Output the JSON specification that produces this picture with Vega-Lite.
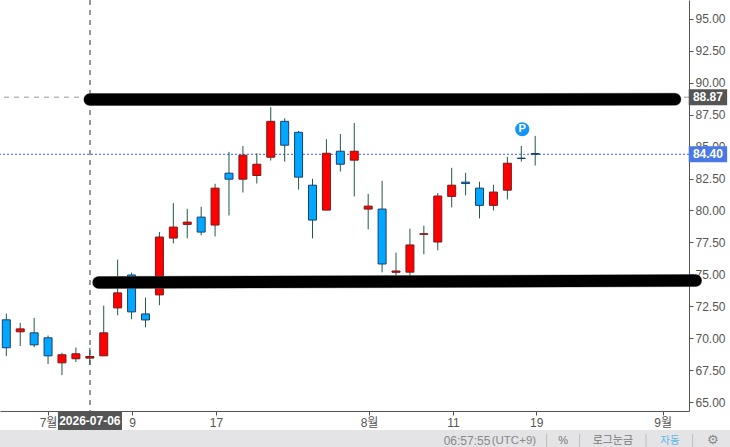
{
  "$schema": "https://vega.github.io/schema/vega-lite/v6.json",
  "width": 689,
  "height": 411,
  "autosize": "none",
  "padding": {"left": 0, "top": 0, "right": 41, "bottom": 36},
  "background": "white",
  "config": {
    "view": {"stroke": null},
    "scale": {"continuousPadding": 0},
    "font": "Liberation Sans, Noto Sans CJK KR",
    "axis": {"labelFont": "Liberation Sans, Noto Sans CJK KR", "labelFontSize": 12, "labelColor": "#555555", "domainColor": "#555555", "tickColor": "#555555", "tickSize": 4, "grid": false, "title": null, "labelOverlap": false}
  },
  "datasets": {
    "candles": [
      {"i": 0, "date": "2026-06-26", "open": 71.44, "close": 69.25, "high": 71.93, "low": 68.6},
      {"i": 1, "date": "2026-06-29", "open": 70.5, "close": 70.73, "high": 71.2, "low": 69.38},
      {"i": 2, "date": "2026-06-30", "open": 70.42, "close": 69.48, "high": 71.59, "low": 69.3},
      {"i": 3, "date": "2026-07-01", "open": 70.03, "close": 68.62, "high": 70.21, "low": 67.97},
      {"i": 4, "date": "2026-07-02", "open": 68.07, "close": 68.7, "high": 68.86, "low": 67.11},
      {"i": 5, "date": "2026-07-03", "open": 68.39, "close": 68.78, "high": 69.27, "low": 68.13},
      {"i": 6, "date": "2026-07-06", "open": 68.44, "close": 68.57, "high": 69.25, "low": 67.9},
      {"i": 7, "date": "2026-07-07", "open": 68.62, "close": 70.42, "high": 72.55, "low": 68.6},
      {"i": 8, "date": "2026-07-08", "open": 72.37, "close": 73.55, "high": 76.15, "low": 71.8},
      {"i": 9, "date": "2026-07-09", "open": 74.95, "close": 72.06, "high": 75.13, "low": 71.49},
      {"i": 10, "date": "2026-07-10", "open": 71.9, "close": 71.43, "high": 73.18, "low": 70.86},
      {"i": 11, "date": "2026-07-13", "open": 73.39, "close": 77.92, "high": 78.31, "low": 72.58},
      {"i": 12, "date": "2026-07-14", "open": 77.84, "close": 78.7, "high": 80.58, "low": 77.42},
      {"i": 13, "date": "2026-07-15", "open": 78.91, "close": 79.09, "high": 80.13, "low": 77.82},
      {"i": 14, "date": "2026-07-16", "open": 79.48, "close": 78.31, "high": 80.29, "low": 78.05},
      {"i": 15, "date": "2026-07-17", "open": 78.86, "close": 81.75, "high": 82.09, "low": 77.97},
      {"i": 16, "date": "2026-07-20", "open": 82.92, "close": 82.45, "high": 84.59, "low": 79.61},
      {"i": 17, "date": "2026-07-21", "open": 82.45, "close": 84.33, "high": 85.05, "low": 81.41},
      {"i": 18, "date": "2026-07-22", "open": 82.74, "close": 83.62, "high": 84.48, "low": 82.11},
      {"i": 19, "date": "2026-07-23", "open": 84.17, "close": 86.98, "high": 88.08, "low": 83.91},
      {"i": 20, "date": "2026-07-24", "open": 86.98, "close": 85.11, "high": 87.22, "low": 83.83},
      {"i": 21, "date": "2026-07-27", "open": 86.12, "close": 82.61, "high": 86.23, "low": 81.64},
      {"i": 22, "date": "2026-07-28", "open": 81.98, "close": 79.25, "high": 82.48, "low": 77.82},
      {"i": 23, "date": "2026-07-29", "open": 80.03, "close": 84.48, "high": 85.58, "low": 80.03},
      {"i": 24, "date": "2026-07-30", "open": 84.64, "close": 83.62, "high": 85.99, "low": 83.05},
      {"i": 25, "date": "2026-07-31", "open": 83.94, "close": 84.64, "high": 86.85, "low": 81.1},
      {"i": 26, "date": "2026-08-03", "open": 80.11, "close": 80.34, "high": 81.3, "low": 78.52},
      {"i": 27, "date": "2026-08-04", "open": 80.11, "close": 75.81, "high": 82.32, "low": 75.16},
      {"i": 28, "date": "2026-08-05", "open": 75.16, "close": 75.26, "high": 76.7, "low": 74.9},
      {"i": 29, "date": "2026-08-06", "open": 75.17, "close": 77.3, "high": 78.57, "low": 74.8},
      {"i": 30, "date": "2026-08-07", "open": 78.13, "close": 78.18, "high": 78.81, "low": 76.57},
      {"i": 31, "date": "2026-08-10", "open": 77.53, "close": 81.13, "high": 81.36, "low": 76.88},
      {"i": 32, "date": "2026-08-11", "open": 81.1, "close": 81.98, "high": 83.34, "low": 80.24},
      {"i": 33, "date": "2026-08-12", "open": 82.22, "close": 82.11, "high": 82.95, "low": 81.18},
      {"i": 34, "date": "2026-08-13", "open": 81.75, "close": 80.4, "high": 82.25, "low": 79.38},
      {"i": 35, "date": "2026-08-14", "open": 80.4, "close": 81.44, "high": 82.01, "low": 80.01},
      {"i": 36, "date": "2026-08-17", "open": 81.59, "close": 83.7, "high": 84.2, "low": 80.86},
      {"i": 37, "date": "2026-08-18", "open": 84.1, "close": 84.07, "high": 85.06, "low": 83.83},
      {"i": 38, "date": "2026-08-19", "open": 84.46, "close": 84.4, "high": 85.84, "low": 83.52}
    ],
    "levels": [
      {"name": "upper", "from": 6.0, "to": 48.04, "start": 88.68, "end": 88.7},
      {"name": "lower", "from": 6.63, "to": 49.53, "start": 74.37, "end": 74.51}
    ],
    "tags": [
      {"label": "88.87", "price": 88.87, "kind": "cross"},
      {"label": "84.40", "price": 84.4, "kind": "last"}
    ],
    "footer": [
      {"label": "06:57:55", "i": 33.1, "kind": "time"},
      {"label": "(UTC+9)", "i": 36.47, "kind": "zone"},
      {"label": "%", "i": 40.0, "kind": "plain"},
      {"label": "로그눈금", "i": 43.58, "kind": "plain"},
      {"label": "자동", "i": 47.68, "kind": "auto"}
    ],
    "separators": [{"i": 38.82}, {"i": 41.19}, {"i": 45.96}, {"i": 49.31}]
  },
  "data": {"name": "candles"},
  "layer": [
    {
      "mark": {"type": "bar", "orient": "horizontal", "color": "#e4e4e6", "clip": false},
      "encoding": {
        "x": {
          "datum": -0.453,
          "type": "quantitative",
          "scale": {"domain": [-0.453, 49.05], "nice": false, "zero": false},
          "axis": {
            "orient": "bottom",
            "values": [3, 9.03, 15.06, 26.06, 32.09, 38.07, 47.16],
            "labelExpr": "datum.value < 4 ? '7월' : datum.value < 10 ? '9' : datum.value < 16 ? '17' : datum.value < 27 ? '8월' : datum.value < 33 ? '11' : datum.value < 39 ? '19' : '9월'",
            "labelPadding": 2
          }
        },
        "x2": {"datum": 52},
        "y": {
          "datum": 62.1,
          "type": "quantitative",
          "scale": {"domain": [64.3, 96.48], "nice": false, "zero": false},
          "axis": {
            "orient": "right",
            "values": [65, 67.5, 70, 72.5, 75, 77.5, 80, 82.5, 85, 87.5, 90, 92.5, 95],
            "tickCount": 13,
            "format": ".2f",
            "labelPadding": 2,
            "labelOverlap": false
          }
        },
        "size": {"value": 17}
      }
    },
    {
      "data": {"name": "separators"},
      "mark": {"type": "rule", "color": "#bdbdbd", "clip": false},
      "encoding": {
        "x": {"field": "i", "type": "quantitative", "scale": {"domain": [-0.453, 49.05], "nice": false, "zero": false}},
        "y": {"datum": 62.5, "type": "quantitative", "scale": {"domain": [64.3, 96.48], "nice": false, "zero": false}},
        "y2": {"datum": 61.48}
      }
    },
    {
      "data": {"name": "footer"},
      "mark": {"type": "text", "clip": false, "font": "Liberation Sans, Noto Sans CJK KR"},
      "encoding": {
        "x": {"field": "i", "type": "quantitative", "scale": {"domain": [-0.453, 49.05], "nice": false, "zero": false}},
        "y": {"datum": 61.95, "type": "quantitative", "scale": {"domain": [64.3, 96.48], "nice": false, "zero": false}},
        "text": {"field": "label"},
        "size": {"field": "kind", "type": "ordinal", "scale": {"domain": ["time", "zone", "plain", "auto"], "range": [12, 10.5, 12, 12]}, "legend": null},
        "color": {"field": "kind", "scale": {"domain": ["time", "zone", "plain", "auto"], "range": ["#888888", "#888888", "#777777", "#5db7ea"]}, "legend": null}
      }
    },
    {
      "data": {"values": [{"glyph": "⚙"}]},
      "mark": {"type": "text", "fontSize": 13, "font": "DejaVu Sans", "color": "#888888", "clip": false},
      "encoding": {
        "x": {"datum": 50.77, "type": "quantitative", "scale": {"domain": [-0.453, 49.05], "nice": false, "zero": false}},
        "y": {"datum": 62.0, "type": "quantitative", "scale": {"domain": [64.3, 96.48], "nice": false, "zero": false}},
        "text": {"field": "glyph"}
      }
    },
    {
      "mark": {"type": "rule", "color": "#999999", "strokeDash": [5, 5], "strokeWidth": 1},
      "encoding": {"x": {"datum": 6, "type": "quantitative", "scale": {"domain": [-0.453, 49.05], "nice": false, "zero": false}}}
    },
    {
      "data": {"name": "tags"},
      "transform": [{"filter": "datum.kind == 'cross'"}],
      "mark": {"type": "rule", "color": "#999999", "strokeDash": [5, 5], "strokeWidth": 1},
      "encoding": {"y": {"field": "price", "type": "quantitative", "scale": {"domain": [64.3, 96.48], "nice": false, "zero": false}}}
    },
    {
      "data": {"name": "tags"},
      "transform": [{"filter": "datum.kind == 'last'"}],
      "mark": {"type": "rule", "color": "#2f5bff", "strokeDash": [2, 2], "strokeWidth": 1},
      "encoding": {"y": {"field": "price", "type": "quantitative", "scale": {"domain": [64.3, 96.48], "nice": false, "zero": false}}}
    },
    {
      "mark": {"type": "rule", "color": "#1f5a44", "strokeWidth": 1},
      "encoding": {
        "x": {"field": "i", "type": "quantitative", "scale": {"domain": [-0.453, 49.05], "nice": false, "zero": false}},
        "y": {"field": "low", "type": "quantitative", "scale": {"domain": [64.3, 96.48], "nice": false, "zero": false}},
        "y2": {"field": "high"}
      }
    },
    {
      "transform": [{"calculate": "datum.close >= datum.open ? 'up' : 'down'", "as": "dir"}],
      "mark": {"type": "bar", "orient": "vertical", "size": 8, "strokeWidth": 1},
      "encoding": {
        "x": {"field": "i", "type": "quantitative", "scale": {"domain": [-0.453, 49.05], "nice": false, "zero": false}},
        "y": {"field": "open", "type": "quantitative", "scale": {"domain": [64.3, 96.48], "nice": false, "zero": false}},
        "y2": {"field": "close"},
        "fill": {"field": "dir", "scale": {"domain": ["up", "down", "cross", "last"], "range": ["#ff0000", "#00a8ff", "#555555", "#4a78e6"]}, "legend": null},
        "stroke": {"field": "dir", "scale": {"domain": ["up", "down"], "range": ["#7a1a1a", "#1c3f6e"]}, "legend": null}
      }
    },
    {
      "data": {"name": "levels"},
      "mark": {"type": "rule", "color": "#888888", "strokeWidth": 13, "strokeCap": "round", "clip": false, "opacity": 0.7},
      "encoding": {
        "x": {"field": "from", "type": "quantitative", "scale": {"domain": [-0.453, 49.05], "nice": false, "zero": false}},
        "x2": {"field": "to"},
        "y": {"field": "start", "type": "quantitative", "scale": {"domain": [64.3, 96.48], "nice": false, "zero": false}},
        "y2": {"field": "end"}
      }
    },
    {
      "data": {"name": "levels"},
      "mark": {"type": "rule", "color": "#000000", "strokeWidth": 12, "strokeCap": "round", "clip": false},
      "encoding": {
        "x": {"field": "from", "type": "quantitative", "scale": {"domain": [-0.453, 49.05], "nice": false, "zero": false}},
        "x2": {"field": "to"},
        "y": {"field": "start", "type": "quantitative", "scale": {"domain": [64.3, 96.48], "nice": false, "zero": false}},
        "y2": {"field": "end"}
      }
    },
    {
      "data": {"values": [{"i": 37.07, "price": 86.36, "label": "P"}]},
      "mark": {"type": "point", "shape": "circle", "filled": true, "size": 200, "color": "#1296f5", "opacity": 1},
      "encoding": {
        "x": {"field": "i", "type": "quantitative", "scale": {"domain": [-0.453, 49.05], "nice": false, "zero": false}},
        "y": {"field": "price", "type": "quantitative", "scale": {"domain": [64.3, 96.48], "nice": false, "zero": false}}
      }
    },
    {
      "data": {"values": [{"i": 37.07, "price": 86.36, "label": "P"}]},
      "mark": {"type": "text", "color": "white", "fontWeight": "bold", "fontSize": 11},
      "encoding": {
        "x": {"field": "i", "type": "quantitative", "scale": {"domain": [-0.453, 49.05], "nice": false, "zero": false}},
        "y": {"field": "price", "type": "quantitative", "scale": {"domain": [64.3, 96.48], "nice": false, "zero": false}},
        "text": {"field": "label"}
      }
    },
    {
      "data": {"name": "tags"},
      "mark": {"type": "bar", "orient": "horizontal", "size": 16, "clip": false},
      "encoding": {
        "x": {"datum": 49.03, "type": "quantitative", "scale": {"domain": [-0.453, 49.05], "nice": false, "zero": false}},
        "x2": {"datum": 51.79},
        "y": {"field": "price", "type": "quantitative", "scale": {"domain": [64.3, 96.48], "nice": false, "zero": false}},
        "fill": {"field": "kind", "scale": {"domain": ["up", "down", "cross", "last"], "range": ["#ff0000", "#00a8ff", "#555555", "#4a78e6"]}, "legend": null}
      }
    },
    {
      "data": {"name": "tags"},
      "mark": {"type": "text", "color": "white", "fontWeight": "bold", "fontSize": 12, "clip": false},
      "encoding": {
        "x": {"datum": 50.41, "type": "quantitative", "scale": {"domain": [-0.453, 49.05], "nice": false, "zero": false}},
        "y": {"field": "price", "type": "quantitative", "scale": {"domain": [64.3, 96.48], "nice": false, "zero": false}},
        "text": {"field": "label"}
      }
    },
    {
      "data": {"values": [{"label": "2026-07-06", "i": 6, "from": 3.71, "to": 8.31}]},
      "mark": {"type": "bar", "orient": "horizontal", "color": "#555555", "size": 19, "clip": false},
      "encoding": {
        "x": {"field": "from", "type": "quantitative", "scale": {"domain": [-0.453, 49.05], "nice": false, "zero": false}},
        "x2": {"field": "to"},
        "y": {"datum": 63.55, "type": "quantitative", "scale": {"domain": [64.3, 96.48], "nice": false, "zero": false}}
      }
    },
    {
      "data": {"values": [{"label": "2026-07-06", "i": 6}]},
      "mark": {"type": "text", "color": "white", "fontWeight": "bold", "fontSize": 12, "clip": false},
      "encoding": {
        "x": {"field": "i", "type": "quantitative", "scale": {"domain": [-0.453, 49.05], "nice": false, "zero": false}},
        "y": {"datum": 63.55, "type": "quantitative", "scale": {"domain": [64.3, 96.48], "nice": false, "zero": false}},
        "text": {"field": "label"}
      }
    }
  ]
}
